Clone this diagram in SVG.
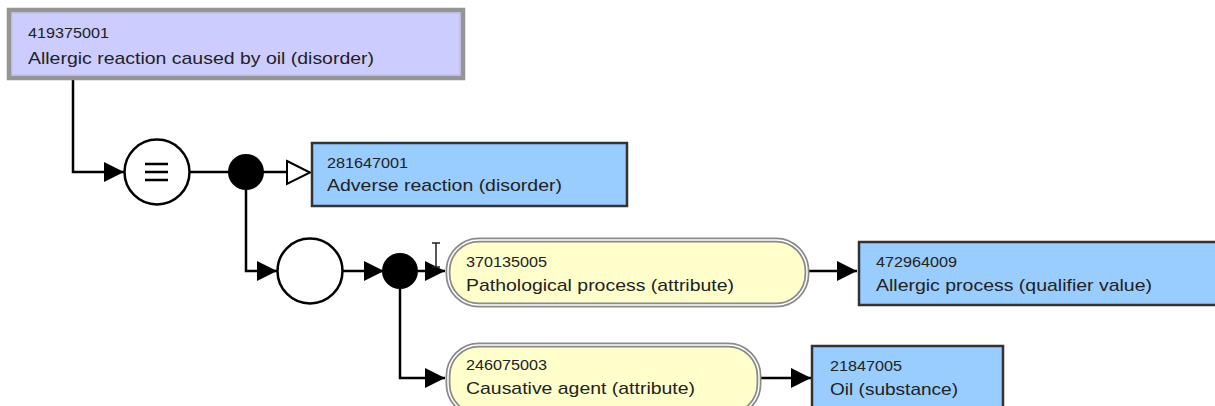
<svg xmlns="http://www.w3.org/2000/svg" width="1215" height="406" viewBox="0 0 1215 406">
  <style>
    .id { font-family: "Liberation Sans", Arial, sans-serif; font-size: 14px; fill: #222; }
    .lbl { font-family: "Liberation Sans", Arial, sans-serif; font-size: 17px; fill: #222; }
    .concept { fill: #99ccff; stroke: #333; stroke-width: 2.5; }
    .defined { fill: #ccccff; stroke: #959595; stroke-width: 4.5; }
    .attrOuter { fill: #ffffcc; stroke: #8a8a8a; stroke-width: 5; }
    .attrInner { fill: none; stroke: #ffffff; stroke-width: 1.5; }
    .wire { fill: none; stroke: #000; stroke-width: 2.5; }
    .ring { fill: #fff; stroke: #000; stroke-width: 2.5; }
    .dot { fill: #000; }
  </style>
  <defs>
    <marker id="arrow" viewBox="0 0 10 10" refX="10" refY="5" markerWidth="8.5" markerHeight="8" markerUnits="strokeWidth" orient="auto">
      <path d="M0,0 L10,5 L0,10 Z" fill="#000"/>
    </marker>
  </defs>

  <!-- connectors -->
  <g id="connectors">
    <path class="wire" d="M73,80 V172 H124" marker-end="url(#arrow)"/>
    <path class="wire" d="M189,172 H230"/>
    <path class="wire" d="M262,172 H288"/>
    <path d="M287,161 L310,172.5 L287,184 Z" fill="#fff" stroke="#000" stroke-width="2"/>
    <path class="wire" d="M246,188 V271 H277" marker-end="url(#arrow)"/>
    <path class="wire" d="M342,271 H384" marker-end="url(#arrow)"/>
    <path class="wire" d="M416,271 H445" marker-end="url(#arrow)"/>
    <path class="wire" d="M400,288 V378 H445" marker-end="url(#arrow)"/>
    <path class="wire" d="M808,271 H857" marker-end="url(#arrow)"/>
    <path class="wire" d="M760,378 H811" marker-end="url(#arrow)"/>
  </g>

  <!-- definition operators -->
  <g id="equivalence">
    <circle class="ring" cx="157" cy="172" r="32.5"/>
    <path d="M145,164 H168 M145,172 H168 M145,180 H168" stroke="#000" stroke-width="2.7"/>
  </g>
  <g id="conjunction1"><circle class="dot" cx="246" cy="172" r="18"/></g>
  <g id="group1"><circle class="ring" cx="310" cy="271" r="32.5"/></g>
  <g id="conjunction2"><circle class="dot" cx="400" cy="271" r="18"/></g>

  <g id="n419375001">
    <rect class="defined" x="9" y="10" width="454" height="68"/>
    <rect x="12" y="13" width="448" height="62" fill="none" stroke="#b9b9d9" stroke-width="1"/>
    <text class="id" x="28" y="38" textLength="81" lengthAdjust="spacingAndGlyphs">419375001</text>
    <text class="lbl" x="28" y="64" textLength="346" lengthAdjust="spacingAndGlyphs">Allergic reaction caused by oil (disorder)</text>
  </g>

  <g id="n281647001">
    <rect class="concept" x="312" y="143" width="315" height="63"/>
    <text class="id" x="327" y="168" textLength="81" lengthAdjust="spacingAndGlyphs">281647001</text>
    <text class="lbl" x="327" y="191" textLength="235" lengthAdjust="spacingAndGlyphs">Adverse reaction (disorder)</text>
  </g>

  <g id="n370135005">
    <rect class="attrOuter" x="448" y="240" width="359" height="65" rx="31"/>
    <rect class="attrInner" x="448" y="240" width="359" height="65" rx="31"/>
    <text class="id" x="466" y="267" textLength="81" lengthAdjust="spacingAndGlyphs">370135005</text>
    <text class="lbl" x="466" y="291" textLength="268" lengthAdjust="spacingAndGlyphs">Pathological process (attribute)</text>
  </g>

  <g id="n472964009">
    <rect class="concept" x="859" y="242" width="370" height="63"/>
    <text class="id" x="876" y="267" textLength="81" lengthAdjust="spacingAndGlyphs">472964009</text>
    <text class="lbl" x="876" y="291" textLength="276" lengthAdjust="spacingAndGlyphs">Allergic process (qualifier value)</text>
  </g>

  <g id="n246075003">
    <rect class="attrOuter" x="448" y="345" width="311" height="70" rx="31"/>
    <rect class="attrInner" x="448" y="345" width="311" height="70" rx="31"/>
    <text class="id" x="466" y="370" textLength="81" lengthAdjust="spacingAndGlyphs">246075003</text>
    <text class="lbl" x="466" y="394" textLength="229" lengthAdjust="spacingAndGlyphs">Causative agent (attribute)</text>
  </g>

  <g id="n21847005">
    <rect class="concept" x="812" y="346" width="191" height="70"/>
    <text class="id" x="830" y="371" textLength="72" lengthAdjust="spacingAndGlyphs">21847005</text>
    <text class="lbl" x="830" y="395" textLength="128" lengthAdjust="spacingAndGlyphs">Oil (substance)</text>
  </g>

  <!-- text-insertion pointer -->
  <path d="M432,243 H440 M436,243 V267 M432,267 H440" stroke="#222" stroke-width="1.5" fill="none"/>
</svg>
